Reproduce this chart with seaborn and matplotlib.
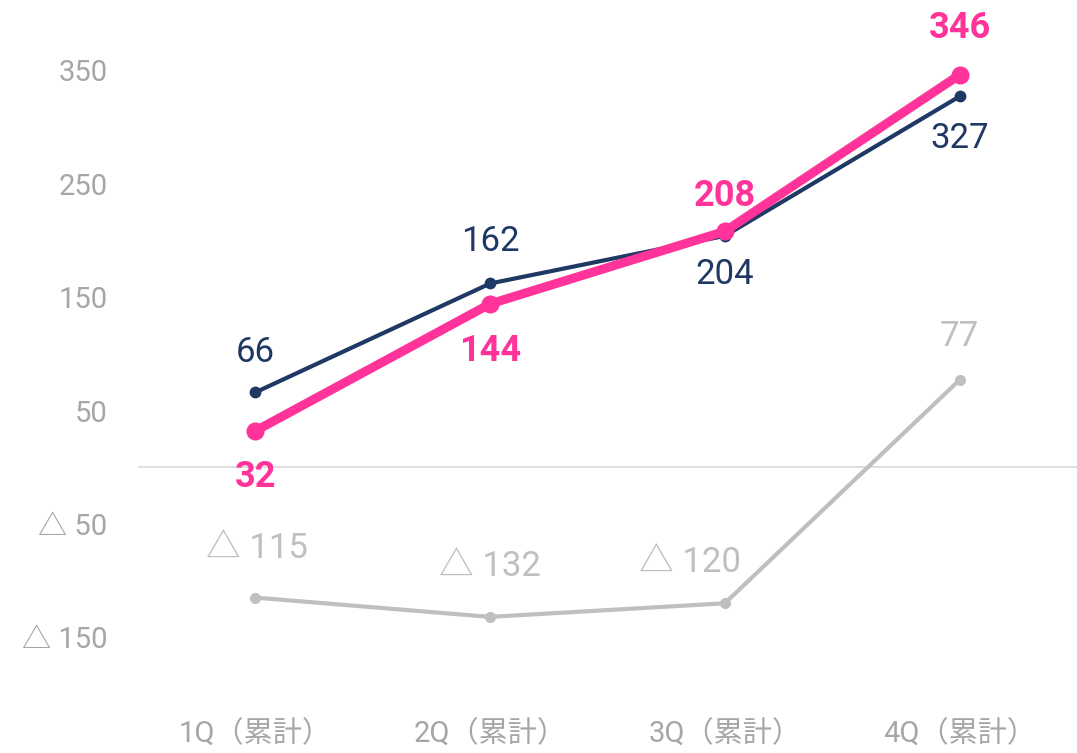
import seaborn as sns
import matplotlib.pyplot as plt
import pandas as pd

# data
quarters = ["1Q（累計）", "2Q（累計）", "3Q（累計）", "4Q（累計）"]
pink_vals = [32, 144, 208, 346]
navy_vals = [66, 162, 204, 327]
gray_vals = [-115, -132, -120, 77]
yticks = [350, 250, 150, 50, -50, -150]

PINK = "#FF3399"
NAVY = "#1F3864"
GRAY = "#BFBFBF"
TICK = "#A6A6A6"

sns.set_theme(style="white")
plt.rcParams["font.family"] = ["Roboto", "Noto Sans CJK JP", "DejaVu Sans"]

df = pd.DataFrame({"pos": range(len(quarters)), "pink": pink_vals,
                   "navy": navy_vals, "gray": gray_vals})

fig = plt.figure(figsize=(10.77, 7.53), dpi=100)
ax = fig.add_axes([138 / 1077, 1 - 694 / 753, 1 - 138 / 1077, 694 / 753])

ax.axhline(0, color="#D9D9D9", lw=1.2, zorder=1)

sns.lineplot(data=df, x="pos", y="gray", color=GRAY, lw=3, marker="o",
             markersize=8, markeredgewidth=0, ax=ax, zorder=2)
sns.lineplot(data=df, x="pos", y="navy", color=NAVY, lw=3, marker="o",
             markersize=8.5, markeredgewidth=0, ax=ax, zorder=3)
sns.lineplot(data=df, x="pos", y="pink", color=PINK, lw=6.5, marker="o",
             markersize=13, markeredgewidth=0, ax=ax, zorder=4)

def fmt(v):
    return f"△ {abs(v)}" if v < 0 else str(v)

# label offsets in pixels (dx, dy)
navy_off = [(0, 40), (0, 42), (0, -39), (0, -42)]
pink_off = [(0, -46), (0, -47), (0, 35), (0, 47)]
gray_off = [(2, 49), (0, 50), (-35, 41), (0, 43)]

for i in range(len(quarters)):
    ax.annotate(fmt(navy_vals[i]), (i, navy_vals[i]), xytext=navy_off[i],
                textcoords="offset pixels", ha="center", va="center",
                color=NAVY, fontsize=25)
    ax.annotate(fmt(pink_vals[i]), (i, pink_vals[i]), xytext=pink_off[i],
                textcoords="offset pixels", ha="center", va="center",
                color=PINK, fontsize=26, fontweight="bold")
    ax.annotate(fmt(gray_vals[i]), (i, gray_vals[i]), xytext=gray_off[i],
                textcoords="offset pixels", ha="center", va="center",
                color=GRAY, fontsize=25)

ax.set_xlim(-0.5, 3.5)
ax.set_ylim(-200, 412)
ax.set_xticks(range(len(quarters)))
ax.set_xticklabels(quarters)
ax.set_yticks(yticks)
ax.set_yticklabels([fmt(v) for v in yticks])
ax.tick_params(axis="y", length=0, pad=22, labelsize=21, labelcolor=TICK)
ax.tick_params(axis="x", length=0, pad=19, labelsize=21, labelcolor=TICK)
ax.set_xlabel("")
ax.set_ylabel("")
sns.despine(ax=ax, left=True, bottom=True)

fig.savefig("out.png", dpi=100)
